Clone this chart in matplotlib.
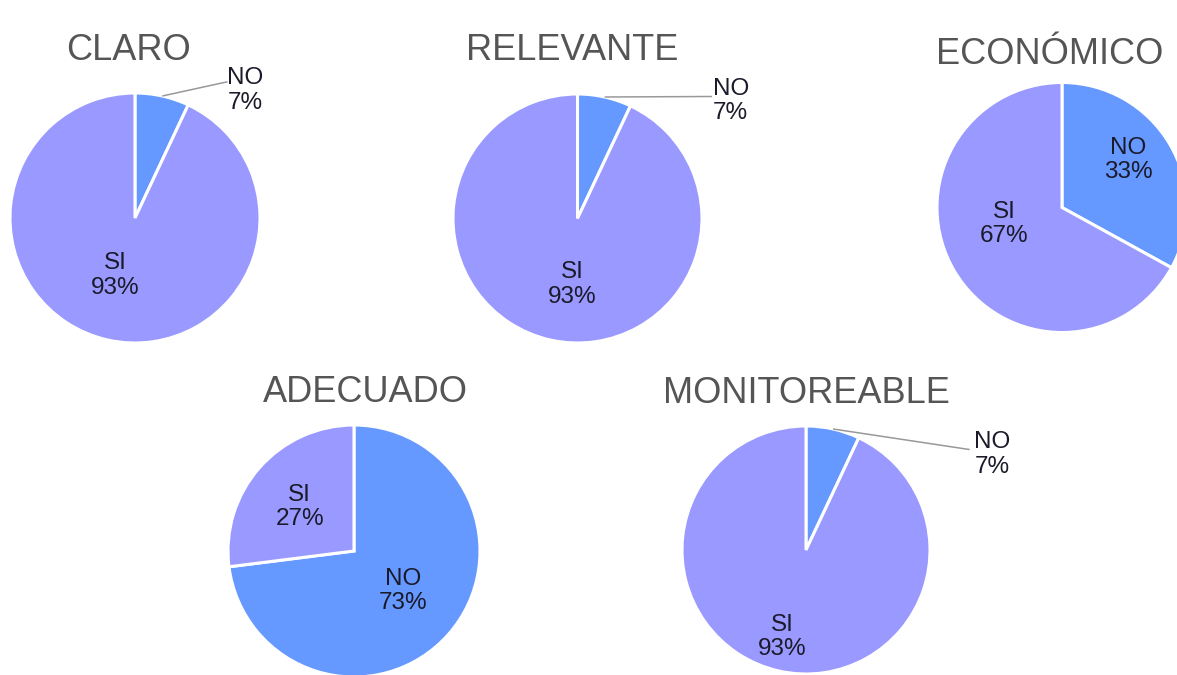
import numpy as np
import matplotlib
matplotlib.use("Agg")
import matplotlib.pyplot as plt

plt.rcParams['font.family'] = ['Liberation Sans', 'DejaVu Sans']

# ---- data ----
titles = ["CLARO", "RELEVANTE", "ECONÓMICO", "ADECUADO", "MONITOREABLE"]
categories = ["NO", "SI"]
no_pct = [7, 7, 33, 73, 7]
si_pct = [93, 93, 67, 27, 93]

colors = {"NO": "#6699FF", "SI": "#9999FF"}

# ---- layout (pixels, figure 1177x675) ----
W, H = 1177, 675
# pie center x, center y (from top), radius
pie_boxes = [(135, 218, 125), (577.5, 218.5, 124.5), (1062, 207.5, 125),
             (354, 551, 126), (806, 550, 124)]
# title center x, baseline y (from top)
title_pos = [(128, 60), (572, 60), (1050, 64), (365, 402), (806, 403)]
# label positions in radius units relative to pie centre, per category
label_pos = [
    {"NO": (0.88, 1.02), "SI": (-0.16, -0.46)},
    {"NO": (1.23, 0.94), "SI": (-0.04, -0.53)},
    {"NO": (0.53, 0.38), "SI": (-0.46, -0.13)},
    {"NO": (0.39, -0.32), "SI": (-0.43, 0.35)},
    {"NO": (1.50, 0.77), "SI": (-0.19, -0.70)},
]
# leader line end (radius units) for outside labels
leader_end = [
    {"NO": (0.74, 1.09)},
    {"NO": (1.08, 0.98)},
    {},
    {},
    {"NO": (1.32, 0.81)},
]

fig = plt.figure(figsize=(W / 100, H / 100), dpi=100)
fig.patch.set_facecolor("white")

for i, title in enumerate(titles):
    cx, cy, r = pie_boxes[i]
    ax = fig.add_axes([(cx - r) / W, (H - cy - r) / H, 2 * r / W, 2 * r / H])
    vals = [no_pct[i], si_pct[i]]
    wedges, _ = ax.pie(vals, colors=[colors[c] for c in categories],
                       startangle=90, counterclock=False, radius=1,
                       wedgeprops=dict(edgecolor="white", linewidth=2.2))
    ax.set_xlim(-1, 1)
    ax.set_ylim(-1, 1)
    ax.set_aspect("equal")
    ax.axis("off")
    for w, cat, v in zip(wedges, categories, vals):
        lx, ly = label_pos[i][cat]
        ax.text(lx, ly, f"{cat}\n{v}%", ha="center", va="center",
                fontsize=17.5, color="#1a1a2a", linespacing=1.12, clip_on=False)
        if cat in leader_end[i]:
            mid = np.deg2rad((w.theta1 + w.theta2) / 2)
            ex, ey = leader_end[i][cat]
            ax.plot([np.cos(mid), ex], [np.sin(mid), ey], color="#999999",
                    lw=1.1, clip_on=False, solid_capstyle="butt")
    tx, ty = title_pos[i]
    fig.text(tx / W, (H - ty) / H, title, ha="center", va="baseline",
             fontsize=26, color="#555555")

fig.savefig("out.png", dpi=100, facecolor="white")
